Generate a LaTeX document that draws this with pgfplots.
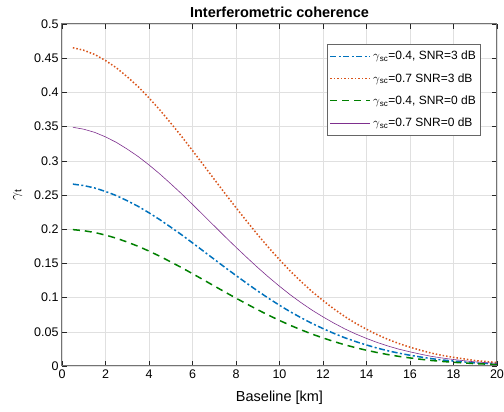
\documentclass[border=0pt]{standalone}
\usepackage{pgfplots}
\pgfplotsset{compat=1.18}
\usepackage{fontspec}
\setmainfont{Liberation Sans}
\definecolor{mblue}{rgb}{0,0.447,0.741}
\definecolor{morange}{rgb}{0.85,0.325,0.098}
\definecolor{mgreen}{rgb}{0,0.5,0}
\definecolor{mpurple}{rgb}{0.494,0.184,0.556}
\definecolor{axgray}{rgb}{0.15,0.15,0.15}
\tikzset{
  sA/.style={draw=mblue, line width=1.5pt, dash pattern=on 6pt off 2.5pt on 2pt off 2.5pt},
  sB/.style={draw=morange, line width=1.5pt, dash pattern=on 1.5pt off 2pt},
  sC/.style={draw=mgreen, line width=1.5pt, dash pattern=on 7pt off 5pt},
  sD/.style={draw=mpurple, line width=0.6pt, solid},
}
\begin{document}
\begin{tikzpicture}
\path[use as bounding box] (-62pt,-46pt) rectangle (442pt,366pt);
\begin{axis}[
  at={(0pt,0pt)}, anchor=south west,
  scale only axis, width=435pt, height=342pt,
  xmin=0, xmax=20, ymin=0, ymax=0.5,
  xtick={0,2,...,20},
  ytick={0,0.05,0.1,0.15,0.2,0.25,0.3,0.35,0.4,0.45,0.5},
  scaled y ticks=false,
  yticklabel style={/pgf/number format/fixed,/pgf/number format/precision=2},
  /pgf/number format/assume math mode=true,
  tick label style={font=\fontsize{12.5}{14}\selectfont},
  grid=major,
  major grid style={draw=black!12, line width=0.5pt},
  axis line style={draw=black!55, line width=1pt},
  tick style={draw=axgray, line width=0.5pt},
  tick align=inside,
  major tick length=5pt,
  every axis title shift=0pt,
  title={\textbf{Interferometric coherence}},
  title style={font=\fontsize{14.5}{16}\selectfont, at={(axis description cs:0.5,1.035)}, anchor=center},
  xlabel={Baseline [km]},
  ylabel={$\gamma$\textsubscript{t}},
  label style={font=\fontsize{14.5}{16}\selectfont},
  xlabel style={at={(axis description cs:0.5,-0.094)}, anchor=center},
  ylabel style={at={(axis description cs:-0.102,0.5)}, anchor=center},
  legend style={name=leg, at={(0.961,0.9415)}, anchor=north east, draw=none, fill=white,
    font=\fontsize{12}{13}\selectfont, row sep=8pt, inner xsep=2pt, inner ysep=5pt},
  legend cell align=left,
  legend image code/.code={\path[#1] (0pt,0pt) -- (40pt,0pt);},
]
\addplot[sA] coordinates {
(0.5,0.2659)(1,0.2638)(1.5,0.2603)(2,0.2552)(2.5,0.2491)(3,0.2416)(3.5,0.2334)(4,0.2240)
(4.5,0.2139)(5,0.2030)(5.5,0.1918)(6,0.1800)(6.5,0.1680)(7,0.1560)(7.5,0.1440)(8,0.1323)
(8.5,0.1208)(9,0.1096)(9.5,0.0989)(10,0.0888)(10.5,0.0792)(11,0.0704)(11.5,0.0621)(12,0.0547)
(12.5,0.0477)(13,0.0413)(13.5,0.0357)(14,0.0307)(14.5,0.0261)(15,0.0221)(15.5,0.0187)(16,0.0157)
(16.5,0.0131)(17,0.0107)(17.5,0.0088)(18,0.0072)(18.5,0.0059)(19,0.0045)(19.5,0.0037)(20,0.0029)};
\addlegendentry{$\gamma$\textsubscript{sc}=0.4, SNR=3 dB}
\addplot[sB] coordinates {
(0.5,0.4653)(1,0.4616)(1.5,0.4555)(2,0.4466)(2.5,0.4359)(3,0.4228)(3.5,0.4084)(4,0.3920)
(4.5,0.3743)(5,0.3552)(5.5,0.3356)(6,0.3150)(6.5,0.2940)(7,0.2730)(7.5,0.2520)(8,0.2315)
(8.5,0.2114)(9,0.1918)(9.5,0.1731)(10,0.1554)(10.5,0.1386)(11,0.1232)(11.5,0.1087)(12,0.0957)
(12.5,0.0835)(13,0.0723)(13.5,0.0625)(14,0.0537)(14.5,0.0457)(15,0.0387)(15.5,0.0327)(16,0.0275)
(16.5,0.0229)(17,0.0187)(17.5,0.0154)(18,0.0126)(18.5,0.0103)(19,0.0079)(19.5,0.0065)(20,0.0051)};
\addlegendentry{$\gamma$\textsubscript{sc}=0.7 SNR=3 dB}
\addplot[sC] coordinates {
(0.5,0.1994)(1,0.1978)(1.5,0.1952)(2,0.1914)(2.5,0.1868)(3,0.1812)(3.5,0.1750)(4,0.1680)
(4.5,0.1604)(5,0.1522)(5.5,0.1438)(6,0.1350)(6.5,0.1260)(7,0.1170)(7.5,0.1080)(8,0.0992)
(8.5,0.0906)(9,0.0822)(9.5,0.0742)(10,0.0666)(10.5,0.0594)(11,0.0528)(11.5,0.0466)(12,0.0410)
(12.5,0.0358)(13,0.0310)(13.5,0.0268)(14,0.0230)(14.5,0.0196)(15,0.0166)(15.5,0.0140)(16,0.0118)
(16.5,0.0098)(17,0.0080)(17.5,0.0066)(18,0.0054)(18.5,0.0044)(19,0.0034)(19.5,0.0028)(20,0.0022)};
\addlegendentry{$\gamma$\textsubscript{sc}=0.4, SNR=0 dB}
\addplot[sD] coordinates {
(0.5,0.3490)(1,0.3462)(1.5,0.3416)(2,0.3350)(2.5,0.3269)(3,0.3171)(3.5,0.3063)(4,0.2940)
(4.5,0.2807)(5,0.2664)(5.5,0.2517)(6,0.2363)(6.5,0.2205)(7,0.2048)(7.5,0.1890)(8,0.1736)
(8.5,0.1586)(9,0.1439)(9.5,0.1299)(10,0.1166)(10.5,0.1040)(11,0.0924)(11.5,0.0816)(12,0.0718)
(12.5,0.0627)(13,0.0543)(13.5,0.0469)(14,0.0403)(14.5,0.0343)(15,0.0291)(15.5,0.0245)(16,0.0207)
(16.5,0.0172)(17,0.0140)(17.5,0.0116)(18,0.0095)(18.5,0.0077)(19,0.0060)(19.5,0.0049)(20,0.0039)};
\addlegendentry{$\gamma$\textsubscript{sc}=0.7 SNR=0 dB}
\end{axis}
\draw[black!60, line width=0.6pt] (leg.south west) rectangle (leg.north east);
\end{tikzpicture}
\end{document}
